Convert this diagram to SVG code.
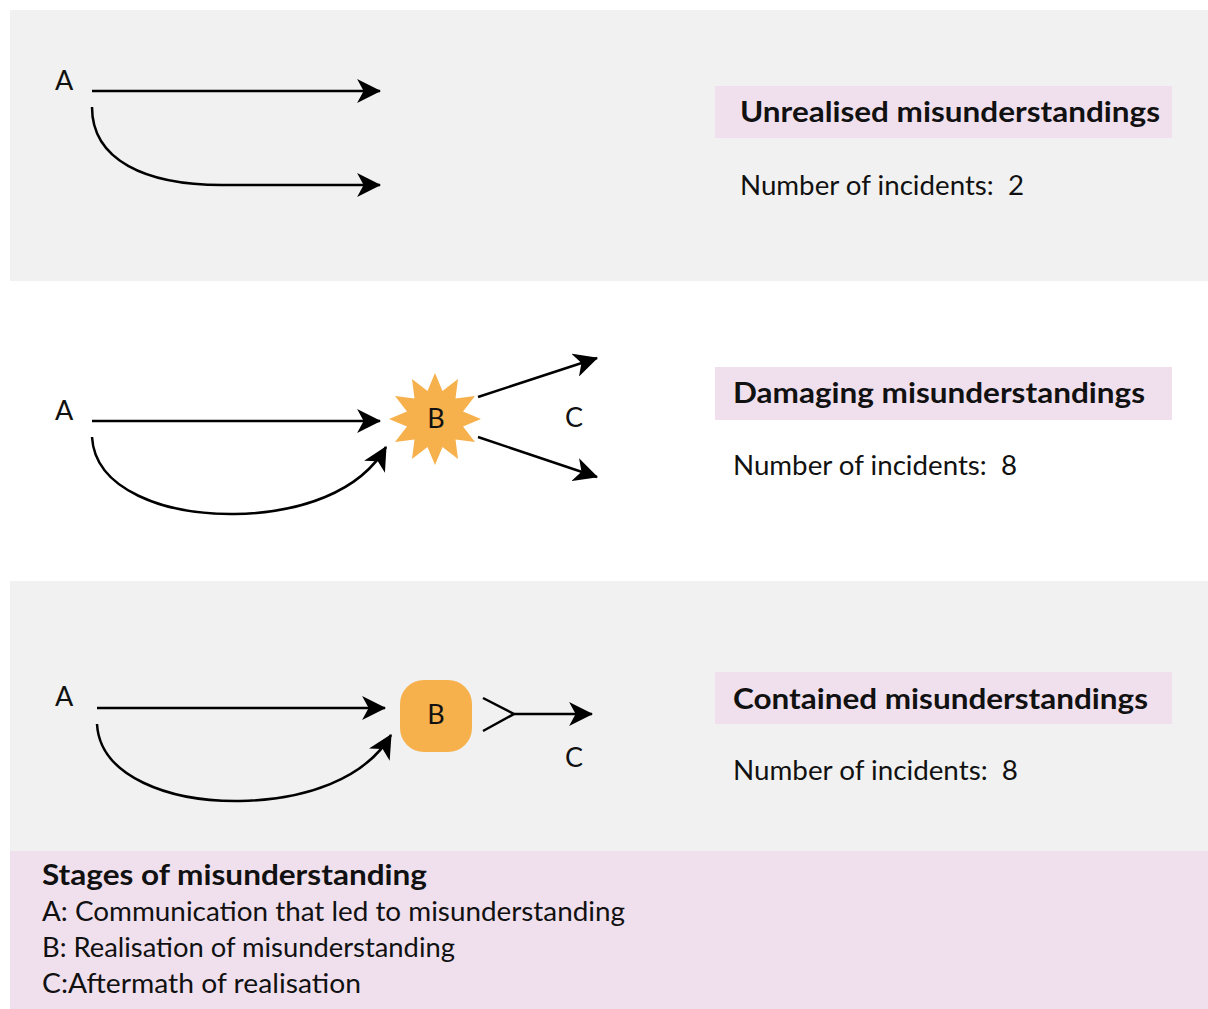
<svg xmlns="http://www.w3.org/2000/svg" width="1208" height="1009" viewBox="0 0 1208 1009">
  <style>
    .band { fill: #f1f1f1; }
    .key { fill: #f0e0ee; }
    .tag { fill: #f0e0ee; }
    text { white-space: pre; }
    .title { font-family: Lato, "Open Sans", sans-serif; font-weight: 700; font-size: 29px; fill: #111; }
    .count { font-family: Lato, "Open Sans", sans-serif; font-size: 27px; fill: #111; }
    .lbl { font-family: Lato, "Open Sans", sans-serif; font-size: 27px; fill: #111; }
    .legend-h { font-family: Lato, "Open Sans", sans-serif; font-weight: 700; font-size: 29px; fill: #111; }
    .legend { font-family: Lato, "Open Sans", sans-serif; font-size: 27px; fill: #111; }
    .flow { fill: none; stroke: #000; stroke-width: 2.5; }
    .flow-arrow { fill: none; stroke: #000; stroke-width: 2.5; marker-end: url(#head); }
    .blob { fill: #f6b04c; }
  </style>
  <defs>
    <marker id="head" markerUnits="userSpaceOnUse" markerWidth="24" markerHeight="24" viewBox="0 0 22 22" refX="21" refY="11" orient="auto">
      <path d="M0,0 L22,11 L0,22 L6,11 Z" fill="#000"/>
    </marker>
  </defs>

  <!-- background bands -->
  <rect class="band" x="10" y="10" width="1198" height="271"/>
  <rect class="band" x="10" y="581" width="1198" height="271"/>
  <rect class="key" x="10" y="851" width="1198" height="158"/>

  <!-- row 1: unrealised -->
  <g id="row1-A"><text class="lbl" x="55" y="90">A</text></g>
  <g id="row1-title">
    <rect class="tag" x="715" y="86" width="457" height="52"/>
    <text class="title" x="740" y="122" textLength="420" lengthAdjust="spacingAndGlyphs">Unrealised misunderstandings</text>
    <text class="count" x="740" y="195" textLength="284" lengthAdjust="spacingAndGlyphs" xml:space="preserve">Number of incidents:  2</text>
  </g>

  <!-- row 2: damaging -->
  <g id="row2-A"><text class="lbl" x="55" y="420">A</text></g>
  <g id="row2-B">
    <polygon class="blob" points="435,373 442.5,391 458,379 455.5,398.5 475,396 463,411.5 481,419 463,426.5 475,442 455.5,439.5 458,459 442.5,447 435,465 427.5,447 412,459 414.5,439.5 395,442 407,426.5 389,419 407,411.5 395,396 414.5,398.5 412,379 427.5,391"/>
    <text class="lbl" x="436" y="428" text-anchor="middle">B</text>
  </g>
  <g id="row2-C"><text class="lbl" x="574" y="427" text-anchor="middle">C</text></g>
  <g id="row2-title">
    <rect class="tag" x="715" y="367" width="457" height="53"/>
    <text class="title" x="733" y="403" textLength="412" lengthAdjust="spacingAndGlyphs">Damaging misunderstandings</text>
    <text class="count" x="733" y="475" textLength="284" lengthAdjust="spacingAndGlyphs" xml:space="preserve">Number of incidents:  8</text>
  </g>

  <!-- row 3: contained -->
  <g id="row3-A"><text class="lbl" x="55" y="706">A</text></g>
  <g id="row3-B">
    <rect class="blob" x="400" y="680" width="72" height="72" rx="24"/>
    <text class="lbl" x="436" y="724" text-anchor="middle">B</text>
  </g>
  <g id="row3-C"><text class="lbl" x="574" y="767" text-anchor="middle">C</text></g>
  <g id="row3-title">
    <rect class="tag" x="715" y="672" width="457" height="52"/>
    <text class="title" x="733" y="709" textLength="415" lengthAdjust="spacingAndGlyphs">Contained misunderstandings</text>
    <text class="count" x="733" y="780" textLength="285" lengthAdjust="spacingAndGlyphs" xml:space="preserve">Number of incidents:  8</text>
  </g>

  <!-- connectors -->
  <g id="connectors">
    <path class="flow-arrow" d="M92,91 L380,91"/>
    <path class="flow-arrow" d="M92,107 C92,160 145,185 222,185 L380,185"/>

    <path class="flow-arrow" d="M92,421 L380,421"/>
    <path class="flow-arrow" d="M92,437 C95,490 165,515 235,514 C300,513 360,492 386,447"/>
    <path class="flow-arrow" d="M478,397 L597,358"/>
    <path class="flow-arrow" d="M478,437 L597,477"/>

    <path class="flow-arrow" d="M97,708 L385,708"/>
    <path class="flow-arrow" d="M97,724 C100,777 170,802 240,801 C305,800 365,779 391,735"/>
    <path class="flow" d="M483,698 L514,714 L483,731"/>
    <path class="flow-arrow" d="M514,714 L592,714"/>
  </g>

  <!-- key -->
  <g id="key">
    <text class="legend-h" x="42" y="885" textLength="385" lengthAdjust="spacingAndGlyphs">Stages of misunderstanding</text>
    <text class="legend" x="42" y="921" textLength="583" lengthAdjust="spacingAndGlyphs">A: Communication that led to misunderstanding</text>
    <text class="legend" x="42" y="957" textLength="413" lengthAdjust="spacingAndGlyphs">B: Realisation of misunderstanding</text>
    <text class="legend" x="42" y="993" textLength="319" lengthAdjust="spacingAndGlyphs">C:Aftermath of realisation</text>
  </g>
</svg>
